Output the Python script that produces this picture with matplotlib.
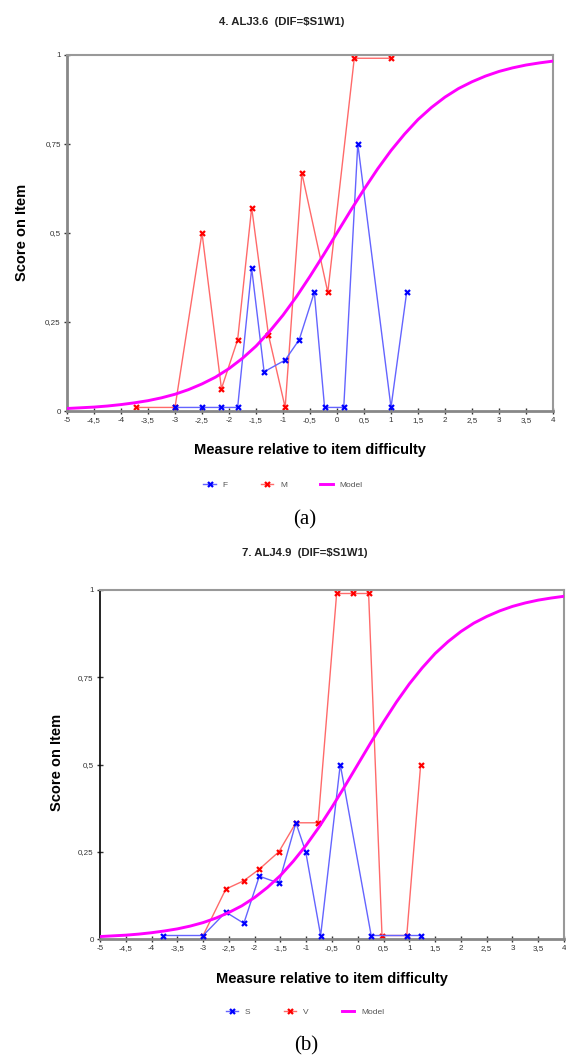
"""
Courbes caractéristiques d'item (DIF) : deux panneaux (a) et (b) l'un sous l'autre.
"""

import matplotlib.pyplot as plt
from matplotlib.lines import Line2D

# axes
x_ticks = [-5, -4.5, -4, -3.5, -3, -2.5, -2, -1.5, -1, -0.5, 0, 0.5, 1, 1.5, 2, 2.5, 3, 3.5, 4]
x_tick_labels = ["-5", "-4,5", "-4", "-3,5", "-3", "-2,5", "-2", "-1,5", "-1", "-0,5",
                 "0", "0,5", "1", "1,5", "2", "2,5", "3", "3,5", "4"]
y_ticks = [0, 0.25, 0.5, 0.75, 1]
y_tick_labels = ["0", "0,25", "0,5", "0,75", "1"]

# model curve, every 0.25 logit
model_x = [-5, -4.75, -4.5, -4.25, -4, -3.75, -3.5, -3.25, -3, -2.75, -2.5, -2.25, -2,
           -1.75, -1.5, -1.25, -1, -0.75, -0.5, -0.25, 0, 0.25, 0.5, 0.75, 1, 1.25,
           1.5, 1.75, 2, 2.25, 2.5, 2.75, 3, 3.25, 3.5, 3.75, 4]
model_y = [0.007, 0.009, 0.011, 0.014, 0.018, 0.023, 0.029, 0.037, 0.047, 0.06, 0.076,
           0.095, 0.119, 0.148, 0.182, 0.223, 0.269, 0.321, 0.378, 0.438, 0.5, 0.562,
           0.622, 0.679, 0.731, 0.777, 0.818, 0.852, 0.881, 0.905, 0.924, 0.94, 0.953,
           0.963, 0.971, 0.977, 0.982]

# panel (a) : 4. ALJ3.6
a_title = "4. ALJ3.6  (DIF=\\$S1W1)"
a_blue_name = "F"
a_blue_x = [-3.0, -2.5, -2.14, -1.84, -1.58, -1.35, -0.96, -0.7, -0.42, -0.23, 0.125, 0.385, 1.0, 1.29]
a_blue_y = [0.01, 0.01, 0.01, 0.01, 0.4, 0.11, 0.143, 0.2, 0.333, 0.01, 0.01, 0.75, 0.01, 0.333]
a_red_name = "M"
a_red_x = [-3.73, -3.0, -2.5, -2.14, -1.84, -1.58, -1.27, -0.96, -0.65, -0.17, 0.32, 1.0]
a_red_y = [0.01, 0.01, 0.5, 0.0625, 0.2, 0.571, 0.214, 0.01, 0.667, 0.333, 0.99, 0.99]

# panel (b) : 7. ALJ4.9
b_title = "7. ALJ4.9  (DIF=\\$S1W1)"
b_blue_name = "S"
b_blue_x = [-3.78, -3.0, -2.56, -2.21, -1.91, -1.53, -1.2, -1.01, -0.72, -0.34, 0.26, 0.95, 1.22]
b_blue_y = [0.01, 0.01, 0.077, 0.045, 0.18, 0.16, 0.333, 0.25, 0.01, 0.5, 0.01, 0.01, 0.01]
b_red_name = "V"
b_red_x = [-3.0, -2.56, -2.21, -1.91, -1.53, -1.2, -0.77, -0.41, -0.1, 0.21, 0.47, 0.95, 1.22]
b_red_y = [0.01, 0.143, 0.167, 0.2, 0.25, 0.333, 0.333, 0.99, 0.99, 0.99, 0.01, 0.01, 0.5]

plt.rcParams['font.family'] = ['Liberation Sans', 'DejaVu Sans']

W, H = 566, 1057
fig = plt.figure(figsize=(W / 100, H / 100), dpi=100)


def fx(px):
    return px / W


def fy(py):
    return 1 - py / H


def panel(box, title, title_xy, xlabel_xy, ylabel_xy, leg_xy, cap, cap_xy,
          bx, by, bname, rx, ry, rname, left_col):
    ax = fig.add_axes(box)
    ax.plot(rx, ry, color='#ff6a6a', lw=1, marker='x', ms=3.6, mew=1.6, mec='#ff0000', zorder=2)
    ax.plot(bx, by, color='#6464ff', lw=1, marker='x', ms=3.6, mew=1.6, mec='#0000ff', zorder=3)
    ax.plot(model_x, model_y, color='#ff00ff', lw=2.1, zorder=4)

    ax.set_xlim(-5, 4)
    ax.set_ylim(0, 1)
    ax.set_xticks(x_ticks)
    ax.set_xticklabels(x_tick_labels)
    ax.set_yticks(y_ticks)
    ax.set_yticklabels(y_tick_labels)
    ax.tick_params(direction='inout', length=5, width=1, labelsize=5.8,
                   labelcolor='#333333', color='#333333', pad=2)

    for s in ['top', 'right']:
        ax.spines[s].set_color('#999999')
        ax.spines[s].set_linewidth(1.5)
    ax.spines['bottom'].set_color('#888888')
    ax.spines['bottom'].set_linewidth(2)
    ax.spines['left'].set_color(left_col)
    ax.spines['left'].set_linewidth(2 if left_col != 'black' else 1.2)

    fig.text(fx(title_xy[0]), fy(title_xy[1]), title, ha='center', va='center',
             fontsize=8.2, fontweight='bold', color='#222222')
    fig.text(fx(xlabel_xy[0]), fy(xlabel_xy[1]), "Measure relative to item difficulty",
             ha='center', va='center', fontsize=10.5, fontweight='bold')
    fig.text(fx(ylabel_xy[0]), fy(ylabel_xy[1]), "Score on Item", rotation=90,
             ha='center', va='center', fontsize=10.5, fontweight='bold')

    handles = [
        Line2D([], [], color='#6464ff', lw=1, marker='x', ms=3.6, mew=1.6, mec='#0000ff'),
        Line2D([], [], color='#ff6a6a', lw=1, marker='x', ms=3.6, mew=1.6, mec='#ff0000'),
        Line2D([], [], color='#ff00ff', lw=2.1),
    ]
    fig.legend(handles, [bname, rname, "Model"], loc='center',
               bbox_to_anchor=(fx(leg_xy[0]), fy(leg_xy[1])), ncol=3, frameon=False,
               fontsize=6, handlelength=1.5, handletextpad=0.8, columnspacing=4.0,
               labelcolor='#555555')

    fig.text(fx(cap_xy[0]), fy(cap_xy[1]), cap, ha='center', va='center',
             fontsize=15, family='Liberation Serif')
    return ax


# panel (a)
panel([fx(67), fy(411), 486 / W, 356.3 / H], a_title, (282, 22), (310, 450), (22, 232),
      (283, 485), "(a)", (305, 520),
      a_blue_x, a_blue_y, a_blue_name, a_red_x, a_red_y, a_red_name, '#888888')

# panel (b)
panel([fx(100), fy(939), 464 / W, 349 / H], b_title, (305, 553), (332, 979), (57, 762),
      (305, 1012), "(b)", (306, 1046),
      b_blue_x, b_blue_y, b_blue_name, b_red_x, b_red_y, b_red_name, 'black')

fig.savefig("out.png", dpi=100)
